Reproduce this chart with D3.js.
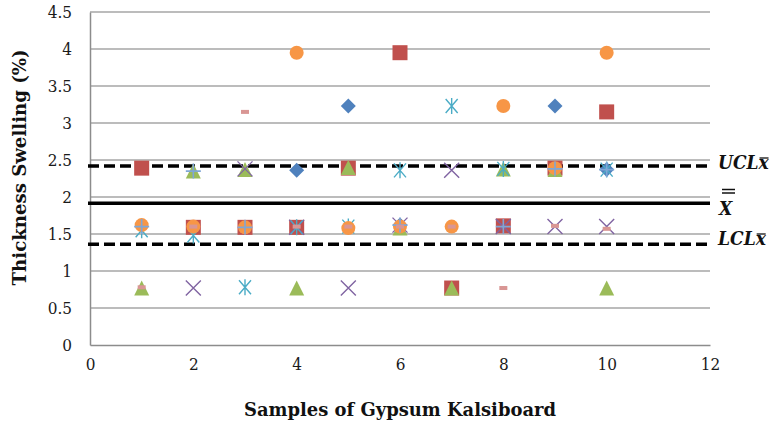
<!DOCTYPE html>
<html><head><meta charset="utf-8">
<script src="https://cdn.jsdelivr.net/npm/d3@7"></script>
<style>body{margin:0;background:#fff}svg{display:block}svg text{font-stretch:condensed}</style>
</head><body>
<script>
// ---- data ----
const samples = [1,2,3,4,5,6,7,8,9,10];
const diamondVals  = [null, null, null, 2.36, 3.23, 1.62, null, null, 3.23, 2.37];
const squareVals   = [2.39, 1.59, 1.59, 1.59, 2.39, 3.95, 0.77, 1.61, 2.39, 3.15];
const triangleVals = [0.77, 2.35, 2.37, 0.77, 2.40, 1.58, 0.77, 2.38, 2.37, 0.77];
const xVals        = [null, 0.77, 2.38, 1.59, 0.77, 1.62, 2.36, 1.60, 1.60, 1.60];
const starVals     = [1.55, 1.48, 0.78, 1.59, 1.60, 2.36, 3.23, 2.38, null, 2.37];
const circleVals   = [1.62, 1.60, 1.59, 3.95, 1.58, 1.60, 1.60, 3.23, 2.39, 3.95];
const plusVals     = [1.60, 2.35, 1.59, null, null, 1.62, null, 1.60, 2.38, 2.37];
const dashVals     = [0.78, 1.60, 3.15, 1.60, 1.60, 1.60, 1.60, 0.77, 1.61, 1.57];
const UCL = 2.42, XBAR = 1.915, LCL = 1.36;
const yTicks = [0,0.5,1,1.5,2,2.5,3,3.5,4,4.5];
const xTicks = [0,2,4,6,8,10,12];

const series = [
  {vals: diamondVals,  shape: "diamond",  color: "#4F81BD"},
  {vals: squareVals,   shape: "square",   color: "#C0504D"},
  {vals: triangleVals, shape: "triangle", color: "#9BBB59"},
  {vals: xVals,        shape: "x",        color: "#8064A2"},
  {vals: starVals,     shape: "star",     color: "#4BACC6"},
  {vals: circleVals,   shape: "circle",   color: "#F79646"},
  {vals: plusVals,     shape: "plus",     color: "#7FA6D6"},
  {vals: dashVals,     shape: "dash",     color: "#D99694"}
];

const W = 775, H = 428;
const serif = "DejaVu Serif";
const svg = d3.select("body").append("svg").attr("width", W).attr("height", H)
  .attr("font-family", serif);
const x = d3.scaleLinear().domain([0,12]).range([90,710]);
const y = d3.scaleLinear().domain([0,4.5]).range([345,12]);

// gridlines
svg.append("g").selectAll("line").data(yTicks.filter(d=>d>0)).join("line")
  .attr("x1", x(0)).attr("x2", x(12)).attr("y1", d=>y(d)).attr("y2", d=>y(d))
  .attr("stroke", "#a6a6a6").attr("stroke-width", 1.5);

// axes
const yAxis = svg.append("g").attr("transform", `translate(${x(0)},0)`)
  .call(d3.axisLeft(y).tickValues(yTicks).tickSize(0).tickPadding(18).tickFormat(d3.format("")));
const xAxis = svg.append("g").attr("transform", `translate(0,${y(0)})`)
  .call(d3.axisBottom(x).tickValues(xTicks).tickSize(0).tickPadding(13).tickFormat(d3.format("")));
[yAxis, xAxis].forEach(a => {
  a.attr("font-family", serif).attr("font-size", 17);
  a.select(".domain").attr("stroke", "#8c8c8c").attr("stroke-width", 1.5);
  a.selectAll("text").attr("fill", "#1a1a1a");
});

// control lines
svg.append("line").attr("x1", x(0)-2).attr("x2", x(12)).attr("y1", y(UCL)).attr("y2", y(UCL))
  .attr("stroke", "#000").attr("stroke-width", 3.5).attr("stroke-dasharray", "11,5");
svg.append("line").attr("x1", x(0)-2).attr("x2", x(12)).attr("y1", y(XBAR)).attr("y2", y(XBAR))
  .attr("stroke", "#000").attr("stroke-width", 3.5);
svg.append("line").attr("x1", x(0)-2).attr("x2", x(12)).attr("y1", y(LCL)).attr("y2", y(LCL))
  .attr("stroke", "#000").attr("stroke-width", 3.5).attr("stroke-dasharray", "11,5");

// markers
function drawMarker(g, shape, color) {
  const s = 7.5;
  switch (shape) {
    case "diamond": g.append("path").attr("d", `M0,${-s}L${s},0L0,${s}L${-s},0Z`).attr("fill", color); break;
    case "square": g.append("rect").attr("x", -s).attr("y", -s).attr("width", 2*s).attr("height", 2*s).attr("fill", color); break;
    case "triangle": g.append("path").attr("d", `M0,${-s}L${s},${s}L${-s},${s}Z`).attr("fill", color); break;
    case "circle": g.append("circle").attr("r", 7).attr("fill", color); break;
    case "x": g.append("path").attr("d", `M${-s},${-s}L${s},${s}M${s},${-s}L${-s},${s}`).attr("stroke", color).attr("stroke-width", 1.4); break;
    case "star": g.append("path").attr("d", `M${-6},${-7}L6,7M6,${-7}L-6,7M0,-8L0,8`).attr("stroke", color).attr("stroke-width", 1.4); break;
    case "plus": g.append("path").attr("d", `M${-s},0L${s},0M0,${-s}L0,${s}`).attr("stroke", color).attr("stroke-width", 1.6); break;
    case "dash": g.append("rect").attr("x", -4).attr("y", -2).attr("width", 8).attr("height", 4).attr("fill", color); break;
  }
}
series.forEach(sr => {
  const g = svg.append("g");
  samples.forEach((s, i) => {
    const v = sr.vals[i];
    if (v == null) return;
    const m = g.append("g").attr("transform", `translate(${x(s)},${y(v)})`);
    drawMarker(m, sr.shape, sr.color);
  });
});

// titles
svg.append("text").attr("transform", `translate(26,${y(2.4)}) rotate(-90)`)
  .attr("text-anchor", "middle").attr("font-family", serif).attr("font-weight", "bold")
  .attr("font-size", 19).attr("fill", "#111").attr("textLength", 236).attr("lengthAdjust", "spacingAndGlyphs")
  .text("Thickness  Swelling (%)");
svg.append("text").attr("x", 400).attr("y", 416)
  .attr("text-anchor", "middle").attr("font-family", serif).attr("font-weight", "bold")
  .attr("font-size", 18).attr("fill", "#111").attr("textLength", 312).attr("lengthAdjust", "spacingAndGlyphs")
  .text("Samples of Gypsum Kalsiboard");

// control labels
function ctrlLabel(txt, yBase) {
  const t = svg.append("text").attr("x", 718).attr("y", yBase)
    .attr("font-family", serif).attr("font-style", "italic").attr("font-weight", "bold")
    .attr("font-size", 19).attr("fill", "#111");
  t.append("tspan").text(txt);
  t.append("tspan").text("x");
  return t;
}
const u = ctrlLabel("UCL", 169);
const l = ctrlLabel("LCL", 245);
[[u,169],[l,245]].forEach(([t, yb]) => {
  const bb = t.node().getBBox();
  svg.append("line").attr("x1", bb.x + bb.width - 10).attr("x2", bb.x + bb.width - 1)
    .attr("y1", yb - 11).attr("y2", yb - 11).attr("stroke", "#111").attr("stroke-width", 1.3);
});
svg.append("text").attr("x", 719).attr("y", 215)
  .attr("font-family", serif).attr("font-style", "italic").attr("font-weight", "bold")
  .attr("font-size", 19).attr("fill", "#111").text("X");
[189.5, 193].forEach(yy => svg.append("line").attr("x1", 722).attr("x2", 735)
  .attr("y1", yy).attr("y2", yy).attr("stroke", "#111").attr("stroke-width", 1.5));
</script>
</body></html>
